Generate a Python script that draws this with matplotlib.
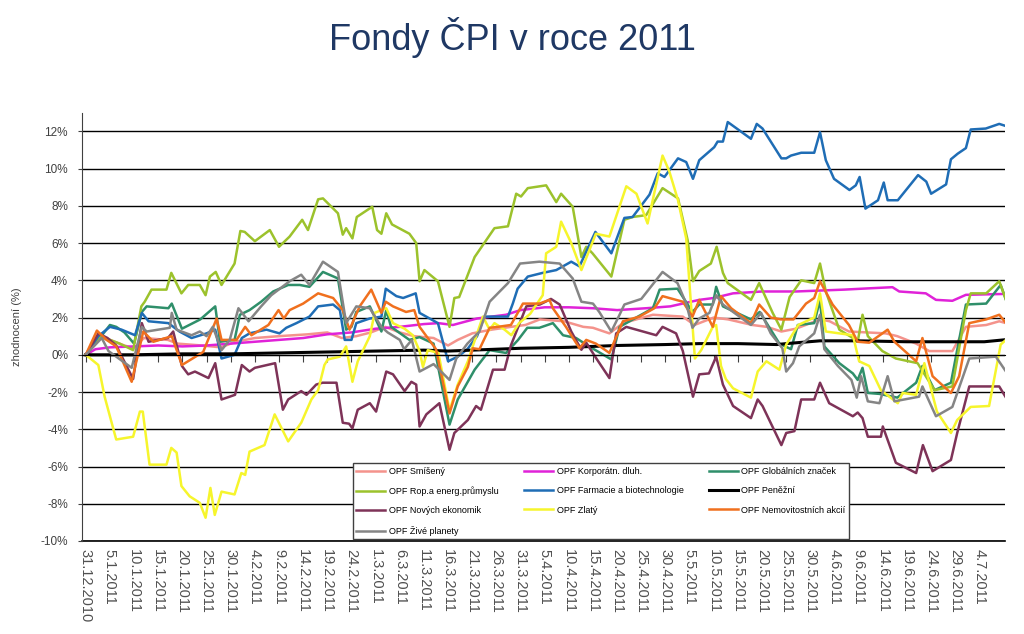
import matplotlib
matplotlib.use('Agg')
import matplotlib.pyplot as plt
from datetime import date, timedelta

plt.rcParams['font.family'] = ['Liberation Sans', 'DejaVu Sans']

start = date(2010, 12, 31)

# x = days since 31.12.2010, y = zhodnoceni v %
smiseny_d = [0, 3, 5, 8, 10, 12, 17, 19, 24, 28, 31, 35, 40, 46, 50, 53, 56, 59, 62, 65, 68, 72, 75, 77, 80,
             84, 88, 91, 94, 99, 103, 105, 108.4, 111.2, 117.4, 123.6, 126, 130, 133, 138, 141, 144, 147,
             152, 154, 158, 165.6, 168, 171.9, 174.6, 179.4, 182.2, 186.4, 189.1, 190.5]
smiseny_v = [0, 0.9, 0.8, 0.5, 0.35, 0.9, 0.8, 0.6, 0.5, 0.4, 0.7, 0.9, 1.0, 1.1, 1.2, 0.9, 1.0, 1.2, 1.5, 1.2,
             1.0, 0.9, 0.5, 0.8, 1.15, 1.35, 1.5, 1.6, 1.9, 1.8, 1.5, 1.45, 1.15, 1.7, 2.15, 2.05, 1.6, 2.0, 1.9,
             1.6, 1.5, 1.25, 1.4, 1.9, 1.8, 1.25, 1.15, 1.0, 0.6, 0.2, 0.2, 1.5, 1.6, 1.8, 1.7]

korp_d = [0, 2, 5, 10, 15, 20, 25, 30, 35, 40, 45, 50, 55, 60, 65, 70, 73, 76, 81, 87, 90, 95, 100, 105, 110,
          116, 121, 127, 130, 134, 140, 147, 157, 162.2, 167, 168.4, 173.9, 176, 179.4, 182.2, 190.5]
korp_v = [0, 0.3, 0.4, 0.45, 0.5, 0.45, 0.5, 0.6, 0.7, 0.8, 0.9, 1.1, 1.2, 1.4, 1.5, 1.65, 1.7, 1.6, 1.95, 2.15,
          2.4, 2.55, 2.55, 2.5, 2.4, 2.5, 2.6, 2.95, 3.05, 3.3, 3.4, 3.4, 3.5, 3.57, 3.63, 3.4, 3.3, 2.95, 2.9,
          3.22, 3.27]

glob_d = [0, 2.6, 5.0, 6.3, 8, 10, 11.6, 12.6, 17.1, 17.8, 19.9, 23.7, 26.8, 27.8, 30.8, 31.9, 33.9, 36.3, 38.8,
          41.9, 44.3, 46.3, 49.1, 52.2, 53.9, 55, 56, 58.8, 61.2, 62.2, 63.2, 67, 69.1, 72, 75.3, 77, 80.5, 83.6,
          87, 89.5, 91.4, 93.9, 96.7, 98.8, 101.5, 104.2, 108.8, 110.5, 117.4, 118.8, 122.5, 125.6, 127, 129.8,
          130.5, 131.9, 137.7, 139.5, 143.6, 146, 147.4, 150.8, 152, 152.9, 156, 158.8, 159.8, 160.8, 161.9,
          164.3, 168, 171.9, 173.2, 175.7, 179.1, 182.2, 186.4, 189.4, 190.5]
glob_v = [0, 0.8, 1.6, 1.5, 1.2, 0.6, 2.3, 2.6, 2.5, 2.75, 1.4, 1.9, 2.6, 0.7, 0.8, 2.15, 2.4, 2.85, 3.4, 3.75,
          3.75, 3.65, 4.45, 4.1, 1.35, 1.5, 2.3, 2.6, 1.25, 2.4, 1.5, 0.8, 0.95, 0.6, -3.75, -2.4, -0.8, 0.25,
          0.1, 0.8, 1.45, 1.45, 1.7, 1.05, 0.9, 0.45, -0.25, 1.5, 2.5, 3.5, 3.55, 2.3, 2.7, 2.7, 3.65, 2.6, 1.9,
          2.3, 0.6, 0.3, 1.6, 1.7, 2.95, 0.45, -0.45, -1.0, -1.35, -0.7, -2.05, -2.1, -2.3, -1.5, -0.6, -1.9,
          -1.5, 2.7, 2.75, 3.75, 2.95]

rop_d = [0, 3, 5, 7, 9.8, 11.5, 12.2, 13.6, 16.7, 17.7, 19.8, 21.2, 23.6, 24.8, 25.7, 26.9, 28.1, 30.8, 32, 32.9,
         35, 38.1, 40, 42.2, 44.8, 46, 48.1, 49.1, 52.2, 53.2, 53.9, 55.2, 56.1, 59.3, 60.3, 61.2, 62.2, 63.4, 67,
         68.4, 69.1, 70.1, 72.9, 75.3, 76.3, 77.3, 80.5, 84.6, 87.4, 89.1, 90.1, 91.5, 95.3, 97.4, 98.4, 100.8,
         102.6, 103.6, 104.9, 108.8, 111.5, 113.2, 116, 119.4, 122.6, 124.6, 125.7, 127, 129.4, 130.6, 131.9,
         132.9, 137.7, 139.4, 142.2, 144, 145.7, 148.1, 150.8, 152, 153.2, 156, 158.8, 159.8, 160.8, 161.9,
         164.9, 167.7, 172.2, 175.7, 179.4, 182.2, 183.2, 186.4, 189.1, 190.5]
rop_v = [0, 1.0, 0.8, 0.6, 0.25, 2.6, 2.85, 3.5, 3.5, 4.4, 3.3, 3.75, 3.75, 3.2, 4.2, 4.45, 3.75, 4.9, 6.65, 6.6,
         6.1, 6.7, 5.8, 6.35, 7.25, 6.7, 8.35, 8.4, 7.6, 6.45, 6.8, 6.25, 7.4, 7.95, 6.7, 6.5, 7.6, 7.0, 6.5, 6.0,
         3.95, 4.55, 3.95, 1.5, 3.05, 3.1, 5.25, 6.8, 6.9, 8.65, 8.5, 8.95, 9.1, 8.2, 8.65, 7.95, 5.25, 5.8, 5.45,
         4.2, 7.25, 7.4, 7.5, 8.95, 8.4, 6.15, 3.95, 4.5, 4.9, 5.8, 4.4, 3.85, 2.95, 3.85, 2.25, 1.35, 3.1, 4.0,
         3.85, 4.9, 3.4, 1.35, 0.9, 0.7, 2.15, 1.0, 0.2, -0.2, -0.45, -1.9, -1.7, 2.4, 3.3, 3.3, 3.95, 2.95]

farm_d = [0, 2.6, 5.0, 7.4, 10.2, 11.6, 13, 17.1, 19.4, 21.9, 25, 26.8, 28.1, 30.8, 32.3, 33.9, 37.4,
          40.1, 41.5, 43.6, 46.3, 48.1, 51.2, 52.6, 53.6, 55, 56, 58.8, 61.2, 62.1, 64.3, 65.7, 68.3, 69.1, 72.9,
          75, 77, 79, 81, 82.5, 87.4, 88.4, 89.4, 91.5, 94.6, 97.4, 100.5, 102.2, 105.5, 108.8, 111.5, 113.2,
          116.7, 118.4, 119.8, 122.6, 124.3, 125.7, 127, 130.1, 130.8, 131.9, 132.9, 137.7, 138.9, 140.1, 144,
          145, 146, 148.1, 150.8, 152, 153.2, 154.9, 158.1, 159.4, 160.2, 161.4, 164, 165.2, 166, 168.1, 172.3,
          174, 175, 178.1, 179.1, 180.5, 182.2, 183.2, 186.3, 189.1, 190.3]
farm_v = [0, 1.0, 1.5, 1.35, 1.05, 2.25, 1.8, 1.7, 1.25, 0.9, 1.15, 1.35, -0.2, 0.0, 0.9, 1.15, 1.35, 1.15,
          1.45, 1.7, 2.05, 2.6, 2.7, 2.4, 0.8, 0.8, 1.7, 1.95, 2.05, 3.55, 3.15, 3.05, 3.3, 2.25, 1.7, -0.35, -0.1,
          0.3, 1.0, 2.05, 2.05, 2.75, 3.55, 4.2, 4.4, 4.55, 5.0, 4.75, 6.6, 5.45, 7.35, 7.4, 8.6, 9.75, 9.55,
          10.55, 10.35, 9.45, 10.45, 11.15, 11.45, 11.45, 12.5, 11.6, 12.4, 12.15, 10.55, 10.55, 10.7, 10.85,
          10.85, 11.95, 10.45, 9.45, 8.85, 9.1, 9.55, 7.85, 8.3, 9.25, 8.3, 8.3, 9.65, 9.3, 8.65, 9.15, 10.5,
          10.8, 11.1, 12.1, 12.15, 12.4, 12.3]

penez_d = [0, 10, 20, 30, 40, 50, 60, 70, 75, 80, 90, 100, 110, 120, 127, 135, 143, 145, 152, 160, 170, 180,
           186, 190]
penez_v = [0, 0.0, 0.05, 0.05, 0.1, 0.15, 0.2, 0.25, 0.2, 0.25, 0.35, 0.4, 0.5, 0.55, 0.6, 0.6, 0.55, 0.6, 0.75,
           0.75, 0.7, 0.7, 0.7, 0.8]

novych_d = [0, 2.6, 4.5, 6.3, 9.8, 11.6, 13, 15, 17, 18.1, 19.9, 21.2, 22.6, 25.4, 26.8, 28.1, 30.9, 32.3,
            33.9, 35, 39.2, 40.8, 41.9, 44.6, 45.7, 47.7, 49, 51.9, 53.2, 54.5, 55.2, 56.3, 58.8, 60.1, 62.2, 63.6,
            66, 67.4, 68.4, 69.1, 70.5, 73.2, 75.3, 76.3, 79.1, 80.8, 81.8, 84.3, 86.7, 88, 91.2, 94, 96.3, 98.1,
            100.5, 102.6, 103.6, 105.7, 108.4, 109.8, 111.9, 118.1, 119.4, 122.2, 123.6, 125.7, 127, 129, 130.5,
            131.9, 134, 137.7, 139.1, 140.1, 144, 145, 146.7, 148.1, 150.8, 152, 153.9, 158.8, 159.8, 160.8,
            161.9, 164.6, 165, 167.7, 171.9, 173.3, 175.3, 179.1, 180.4, 182.9, 189.1, 190.5]
novych_v = [0, 1.15, 0.9, 0.5, -1.3, 1.7, 0.7, 0.8, 0.9, 1.25, -0.6, -1.05, -0.9, -1.25, -0.45, -2.4, -2.15,
            -0.55, -0.9, -0.7, -0.45, -2.95, -2.4, -1.95, -2.15, -1.6, -1.5, -1.5, -3.65, -3.7, -3.95, -2.95, -2.6,
            -3.05, -0.9, -1.05, -1.95, -1.45, -1.6, -3.85, -3.2, -2.6, -5.1, -4.2, -3.5, -2.75, -2.95, -0.8, -0.8,
            0.5, 2.6, 2.7, 3.0, 2.7, 1.25, 0.27, 0.65, -0.2, -1.25, 1.15, 1.5, 1.05, 1.5, 1.15, 0.2, -2.25, -1.05,
            -1.0, -0.1, -1.6, -2.75, -3.4, -2.4, -2.75, -4.85, -4.2, -4.1, -2.4, -2.4, -1.5, -2.6, -3.3, -3.1,
            -3.4, -4.4, -4.4, -3.85, -5.8, -6.35, -4.85, -6.25, -5.65, -4.2, -1.7, -1.7, -2.3]

zlaty_d = [0, 2.6, 3.9, 6.3, 9.8, 11.2, 11.8, 13.2, 16.7, 17.7, 18.8, 19.8, 21.5, 23.6, 24.8, 25.8, 26.7, 28.1,
           30.8, 32.2, 33, 33.9, 37, 39.1, 41.9, 44.6, 46.7, 48.1, 49.4, 50.1, 52.6, 53.9, 55.2, 56.3, 58.8, 59.8,
           61.2, 62.2, 63.6, 66, 67.7, 69.1, 69.8, 70.8, 73, 75.3, 77, 79.1, 80.1, 82.2, 83.6, 84.6, 86.7, 88.1,
           89.7, 92, 94.6, 95.3, 97.4, 98.4, 100.5, 102.6, 105.6, 108.4, 111.9, 114, 116.3, 119.4, 120.8, 122.6,
           124.3, 126.1, 127.4, 129.8, 130.5, 131.5, 132.5, 134, 137.7, 139.1, 140.9, 143.6, 145, 147.5, 150.8,
           152, 153.2, 158.8, 160.1, 162.2, 164.6, 168.1, 169.1, 171.9, 173.6, 176.2, 179.1, 180.4, 183.2, 187,
           189.4, 190.5]
zlaty_v = [0, -0.55, -2.25, -4.55, -4.4, -3.05, -3.05, -5.9, -5.9, -5.0, -5.25, -7.05, -7.6, -7.95, -8.75, -7.15,
           -8.6, -7.35, -7.5, -6.35, -6.45, -5.2, -4.85, -3.2, -4.65, -3.65, -2.4, -1.9, -0.55, -0.25, -0.1, 0.45,
           -1.45, -0.35, 1.0, 2.25, 2.4, 2.5, 1.7, 1.4, 1.05, 0.2, -0.65, 0.25, 0.1, -3.0, -1.6, -0.35, 0.45, 2.05,
           1.35, 1.7, 1.35, 1.05, 1.7, 2.2, 3.2, 5.45, 5.8, 7.15, 6.0, 4.55, 6.5, 6.35, 9.05, 8.65, 7.05, 10.7,
           9.85, 8.3, 6.25, -0.2, 0.25, 1.5, 1.6, -0.6, -1.3, -1.8, -2.3, -0.9, -0.35, -0.8, 0.55, 1.6, 2.0, 3.3,
           1.25, 1.05, -0.35, -0.6, -1.9, -2.6, -2.05, -2.15, -0.45, -3.05, -4.2, -3.5, -2.8, -2.75, 0.55, 0.8]

nemov_d = [0, 2.3, 4.3, 6.3, 9.5, 11.9, 14, 17.8, 19.9, 24.3, 27.1, 28.1, 31.2, 33, 34.3, 37.8, 39.9,
           41, 42.2, 45, 48.1, 51.2, 53.2, 54.6, 56.7, 59.1, 61.2, 62.1, 63.6, 66.3, 68, 69.1, 72.5, 75.3, 77,
           79.1, 80.1, 81.5, 83.6, 85.3, 88, 90.5, 93.9, 96, 96.7, 99.4, 102.2, 103.6, 105.6, 108.4, 111.2, 114.6,
           117.7, 119.4, 123.6, 125.6, 127, 129.8, 131.5, 133.6, 137.7, 139.4, 141.8, 143.9, 146.5, 149.1,
           150.8, 152, 154.6, 158, 159.8, 162.2, 166, 167.4, 171.9, 173.2, 175.3, 179.1, 180.8, 182.9, 186.4,
           189.1, 190.5]
nemov_v = [0, 1.3, 0.8, 0.45, -1.45, 1.25, 0.7, 1.0, -0.55, 0.15, 1.95, 0.8, 0.8, 1.5, 1.05, 1.6, 2.4, 1.95,
           2.4, 2.75, 3.3, 3.05, 2.4, 1.35, 2.6, 3.5, 2.25, 2.85, 2.6, 2.3, 2.4, 1.5, 0.3, -3.15, -1.7, -0.65, 0.35,
           0.3, 1.45, 1.5, 1.6, 2.75, 2.75, 2.95, 2.5, 1.5, 0.35, 0.8, 0.6, 0.1, 1.8, 2.05, 2.5, 3.15, 2.85, 2.05,
           2.95, 1.5, 3.15, 2.5, 1.7, 2.7, 2.0, 1.9, 1.9, 2.75, 3.05, 3.95, 2.7, 1.6, 0.7, 0.65, 1.35, 0.7, -0.35,
           0.9, -1.15, -2.05, -1.15, 1.7, 1.9, 2.15, 1.7]

zive_d = [0, 3.3, 4.7, 9.5, 11.6, 12.6, 17.4, 17.8, 18.8, 21.9, 23.6, 25, 26.3, 28.1, 29.8, 31.6, 33.7, 36.3,
          38.4, 42.2, 44.6, 46.3, 49.1, 52.2, 53.9, 56, 58.8, 61.2, 62.5, 65, 65.9, 67.5, 69.1, 72, 75.3, 76.7, 79,
          81.5, 83.6, 87.4, 89.9, 93.9, 98.1, 100.8, 102.6, 105, 106.3, 108.8, 110.5, 111.5, 115, 119.4, 122.5,
          124.3, 125.6, 127, 129.1, 130.5, 131.9, 137.7, 139.8, 141.8, 144.2, 145, 146.4, 147.7, 150.8, 152,
          152.9, 155.7, 158.5, 159.6, 160.5, 161.9, 164.3, 166, 167.4, 172.5, 173.2, 176, 179.4, 182.9, 188.4,
          190.5]
zive_v = [0, 0.9, 0.2, -0.7, 1.5, 1.25, 1.45, 2.25, 1.35, 1.05, 1.25, 1.0, 1.5, 0.25, 0.8, 2.5, 1.8, 2.6, 3.2,
          3.95, 4.3, 3.75, 5.0, 4.45, 1.7, 2.6, 2.5, 1.5, 1.2, 0.8, 0.3, 0.8, -0.9, -0.5, -1.35, -0.2, 0.6, 1.25,
          2.85, 3.85, 4.9, 5.0, 4.9, 4.1, 2.85, 2.75, 2.3, 1.25, 2.15, 2.7, 3.0, 4.45, 3.85, 2.75, 1.45, 1.95,
          2.25, 3.2, 2.7, 1.6, 2.25, 1.15, 0.35, -0.9, -0.45, 0.45, 1.15, 2.15, 0.3, -0.6, -1.35, -2.3, -1.15,
          -2.5, -2.6, -1.15, -2.5, -2.25, -1.7, -3.3, -2.8, -0.2, -0.1, -0.9]

series = [
    ('OPF Smíšený', smiseny_d, smiseny_v, '#f4938c', 1.8),
    ('OPF Korporátn. dluh.', korp_d, korp_v, '#e022d8', 1.8),
    ('OPF Globálních značek', glob_d, glob_v, '#2f8f6a', 1.8),
    ('OPF Rop.a energ.průmyslu', rop_d, rop_v, '#9cc22c', 1.8),
    ('OPF Farmacie a biotechnologie', farm_d, farm_v, '#1f6db5', 1.8),
    ('OPF Peněžní', penez_d, penez_v, '#000000', 2.2),
    ('OPF Nových ekonomik', novych_d, novych_v, '#7e3358', 1.8),
    ('OPF Zlatý', zlaty_d, zlaty_v, '#f6f52c', 1.8),
    ('OPF Nemovitostních akcií', nemov_d, nemov_v, '#f0701e', 1.8),
    ('OPF Živé planety', zive_d, zive_v, '#858585', 1.8),
]

tick_days = list(range(0, 186, 5))
tick_labels = []
for d in tick_days:
    day = start + timedelta(days=d)
    tick_labels.append(f"{day.day}.{day.month}.{day.year}")

fig = plt.figure(figsize=(10.24, 6.34), dpi=100)
ax = fig.add_axes([0.080, 0.1467, 0.901, 0.6755])

handles = {}
for name, xs, ys, col, lw in series:
    line, = ax.plot(xs, ys, color=col, linewidth=lw, solid_joinstyle='round')
    handles[name] = line

ax.set_xlim(-0.8, 190.2)
ax.set_ylim(-10, 13)
ax.set_yticks(range(-10, 13, 2))
ax.set_yticklabels([f"{v}%" for v in range(-10, 13, 2)])
ax.grid(axis='y', color='black', linewidth=1.0)
ax.set_axisbelow(True)
# bottom gridline sits on the axes edge and gets clipped otherwise
ax.axhline(-10, color='black', linewidth=1.2, clip_on=False, zorder=0.5)

for s in ['top', 'right']:
    ax.spines[s].set_visible(False)
ax.spines['left'].set_color('#404040')
ax.spines['bottom'].set_position(('data', 0))
ax.spines['bottom'].set_color('black')
ax.set_xticks(tick_days)
ax.tick_params(axis='x', direction='out', length=5, color='#404040', labelbottom=False)
ax.tick_params(axis='y', direction='out', length=3, pad=7, labelsize=8.5, labelcolor='#404040', color='#404040')

# date labels sit at the bottom edge, ticks stay on the zero line
sec = ax.secondary_xaxis('bottom')
sec.set_xticks(tick_days, tick_labels)
sec.tick_params(length=0, pad=6, labelsize=10.5, labelcolor='#505050', labelrotation=-90)
sec.spines['bottom'].set_visible(False)

ax.set_ylabel('zhodnocení (%)', fontsize=8, color='#404040')
ax.yaxis.set_label_coords(-0.065, 0.5)

fig.text(0.5, 1 - 38 / 634, 'Fondy ČPI v roce 2011', ha='center', va='center',
         fontsize=26, color='#1f3864')

# legend fills row by row in the original, matplotlib fills columns
order = ['OPF Smíšený', 'OPF Rop.a energ.průmyslu', 'OPF Nových ekonomik', 'OPF Živé planety',
         'OPF Korporátn. dluh.', 'OPF Farmacie a biotechnologie', 'OPF Zlatý',
         'OPF Globálních značek', 'OPF Peněžní', 'OPF Nemovitostních akcií']
leg = ax.legend([handles[n] for n in order], order, ncol=3, loc='lower left',
                bbox_to_anchor=(0.2936, 0.004, 0.538, 0.19), mode='expand', borderaxespad=0,
                fontsize=6.5, fancybox=False, framealpha=1, edgecolor='#404040',
                handlelength=3.2, labelspacing=1.15, handletextpad=0.4)
leg.get_frame().set_linewidth(1.0)

fig.savefig('out.png', dpi=100)
